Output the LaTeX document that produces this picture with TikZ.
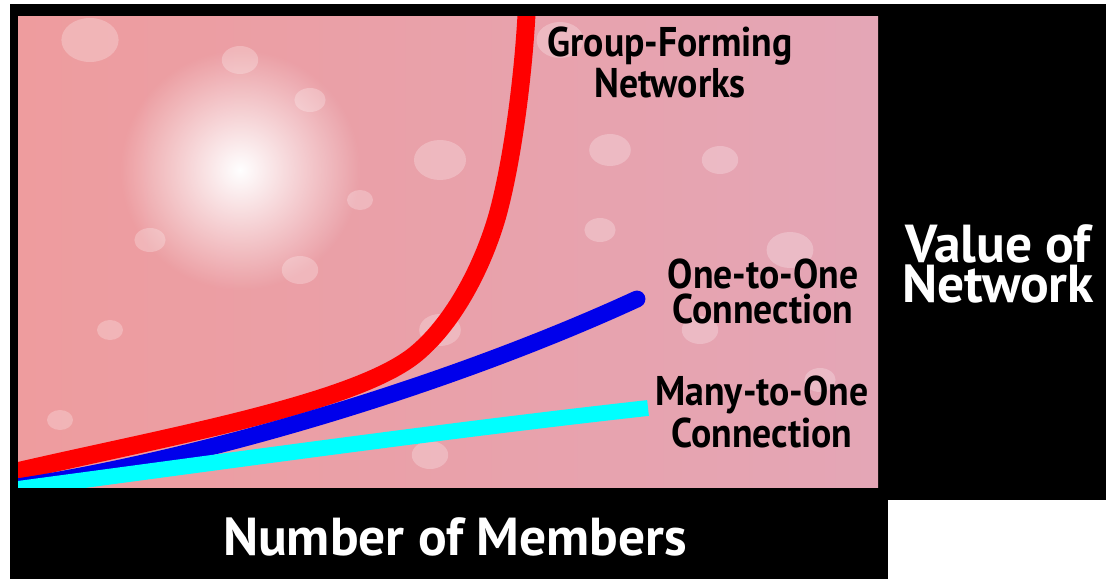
\documentclass[tikz,border=0pt]{standalone}
\usepackage{fontspec}
\setmainfont{PT Sans}
\usepackage{graphicx}
\usepackage{tikz}
\usetikzlibrary{fadings}
\definecolor{pinkl}{RGB}{238,156,158}
\definecolor{pinkr}{RGB}{228,166,182}
\definecolor{gfnred}{RGB}{255,0,0}
\definecolor{ooblue}{RGB}{0,0,235}
\definecolor{mocyan}{RGB}{0,255,255}
\tikzfading[name=glowfade, inner color=transparent!0, outer color=transparent!100]
\newcommand{\narrowtxt}[1]{\scalebox{0.91}[1]{#1}}
\tikzset{
  lbl/.style={font=\bfseries\fontsize{11.8}{9.7}\selectfont, text=black, inner sep=0pt, align=center, anchor=base},
  axislbl/.style={font=\bfseries\fontsize{15.2}{11.1}\selectfont, text=white, inner sep=0pt, align=center, anchor=base},
  curve/.style={line width=#1, line join=round},
  blob/.style={white, opacity=0.25},
}
\begin{document}
\begin{tikzpicture}[x=0.01cm,y=-0.01cm]
\useasboundingbox (0,0) rectangle (1106,579);
\fill[white] (0,0) rectangle (1106,579);
\fill[black] (10,4) rectangle (1106,500);
\fill[black] (10,500) rectangle (888,579);
\shade[left color=pinkl, right color=pinkr] (18,17) rectangle (878,487);
\begin{scope}
\clip (18,17) rectangle (878,487);
\foreach \bx/\by/\br in {90/40/22, 240/60/14, 310/100/12, 440/160/20, 150/240/12, 300/270/14, 110/330/10, 440/330/16, 560/40/18, 610/150/16, 720/160/14, 790/250/18, 600/230/12, 430/455/14, 700/330/14, 820/380/12, 60/420/10, 360/200/10}
  \fill[blob] (\bx,\by) ellipse ({\br*1.3} and \br);
\fill[white, path fading=glowfade] (240,170) circle (120);
\draw[curve=5.1pt, gfnred] (10,473) .. controls (160,438) and (357,404) .. (417,353) .. controls (455,321) and (483,265) .. (497,217) .. controls (513,160) and (524,70) .. (527,5);
\draw[curve=4.8pt, ooblue, line cap=round] (10,488) .. controls (200,460) and (450,385) .. (637,299);
\draw[curve=4.5pt, mocyan] (10,490) .. controls (250,458) and (450,430) .. (648,408);
\end{scope}
\node[lbl] (gfn) at (670,98) {\narrowtxt{Group-Forming}\\\narrowtxt{Networks}};
\node[lbl] (oto) at (763,323) {\narrowtxt{One-to-One}\\\narrowtxt{Connection}};
\node[lbl] (mto) at (762,447) {\narrowtxt{Many-to-One}\\\narrowtxt{Connection}};
\node[axislbl] (val) at (998,302) {Value of\\Network};
\node[axislbl] (num) at (455,555) {Number of Members};
\end{tikzpicture}
\end{document}
